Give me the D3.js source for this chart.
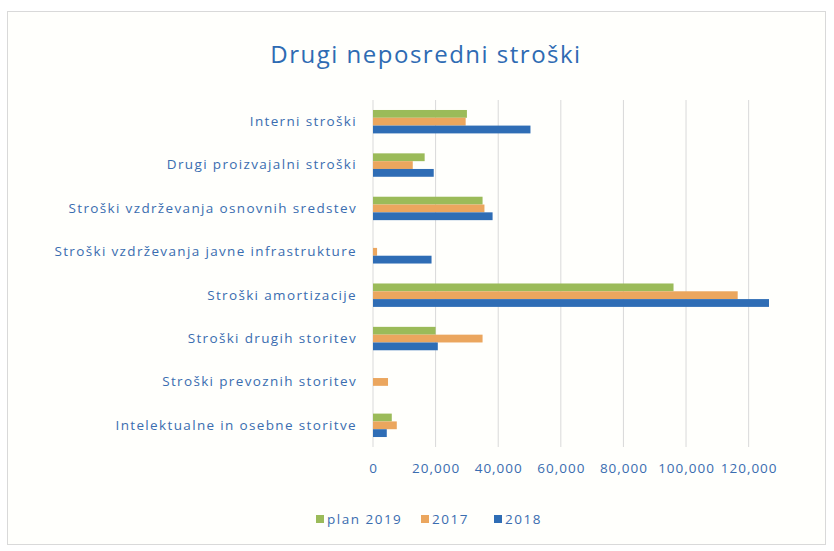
<!DOCTYPE html>
<html>
<head>
<meta charset="utf-8">
<script src="https://cdn.jsdelivr.net/npm/d3@7"></script>
<style>
  body { margin: 0; background: #fff; }
  text { font-family: "Open Sans", sans-serif; }
</style>
</head>
<body>
<svg id="drawing_region"></svg>
<script>
const categories = [
    "Interni stroški",
    "Drugi proizvajalni stroški",
    "Stroški vzdrževanja osnovnih sredstev",
    "Stroški vzdrževanja javne infrastrukture",
    "Stroški amortizacije",
    "Stroški drugih storitev",
    "Stroški prevoznih storitev",
    "Intelektualne in osebne storitve"
];
const seriesNames = ["plan 2019", "2017", "2018"];
const plan2019 = [30000, 16500, 35000, 0, 96000, 20000, 0, 6000];
const y2017 = [29600, 12700, 35600, 1300, 116500, 35000, 4800, 7600];
const y2018 = [50300, 19400, 38200, 18700, 126500, 20700, 0, 4400];
const xTicks = [0, 20000, 40000, 60000, 80000, 100000, 120000];
const colors = ["#9bbb59", "#eba65e", "#2f6db5"];

const config = {
    width: 834,
    height: 551,
    margin: {top: 100, right: 65, bottom: 104, left: 373}
};

const svg = d3.select('#drawing_region')
    .attr('width', config.width)
    .attr('height', config.height);

// chart frame
svg.append('rect')
    .attr('x', 7.5).attr('y', 11.5)
    .attr('width', 818).attr('height', 533)
    .attr('fill', '#fffffc')
    .attr('stroke', '#d9d9d9');

svg.append('text')
    .attr('x', 426).attr('y', 63)
    .attr('text-anchor', 'middle')
    .attr('font-size', 24)
    .attr('letter-spacing', 1.5)
    .attr('fill', '#2e6bb3')
    .text('Drugi neposredni stroški');

const chart = svg.append('g')
    .attr('transform', `translate(${config.margin.left}, ${config.margin.top})`);

const inner_width = config.width - config.margin.left - config.margin.right;
const inner_height = config.height - config.margin.top - config.margin.bottom;

const xscale = d3.scaleLinear()
    .domain([0, 126500])
    .range([0, inner_width]);

const yscale = d3.scaleBand()
    .domain(categories)
    .range([0, inner_height])
    .paddingInner(0.46)
    .paddingOuter(0.23);

const inner = d3.scaleBand()
    .domain(seriesNames)
    .range([0, yscale.bandwidth()]);

// gridlines
chart.append('g')
    .selectAll('line')
    .data(xTicks)
    .join('line')
    .attr('x1', d => xscale(d)).attr('x2', d => xscale(d))
    .attr('y1', 0).attr('y2', inner_height)
    .attr('stroke', '#d9d9d9');

const table = categories.map((c, i) => ({
    cat: c,
    values: [plan2019[i], y2017[i], y2018[i]]
}));

const groups = chart.selectAll('.grp')
    .data(table)
    .join('g')
    .attr('class', 'grp')
    .attr('transform', d => `translate(0, ${yscale(d.cat)})`);

groups.selectAll('rect')
    .data(d => d.values.map((v, j) => ({name: seriesNames[j], v: v, j: j})))
    .join('rect')
    .attr('x', 0)
    .attr('y', d => inner(d.name))
    .attr('width', d => xscale(d.v))
    .attr('height', inner.bandwidth())
    .attr('fill', d => colors[d.j]);

// category axis
const yaxis = d3.axisLeft(yscale).tickSize(0).tickPadding(16);
chart.append('g')
    .call(yaxis)
    .call(g => g.select('.domain').remove())
    .selectAll('text')
    .attr('font-family', '"Open Sans", sans-serif')
    .attr('font-size', 13.5)
    .attr('letter-spacing', 1.35)
    .attr('fill', '#3a6db0');

// value axis
const xaxis = d3.axisBottom(xscale)
    .tickValues(xTicks)
    .tickSize(0)
    .tickPadding(16)
    .tickFormat(d3.format(','));
chart.append('g')
    .attr('transform', `translate(0, ${inner_height})`)
    .call(xaxis)
    .call(g => g.select('.domain').remove())
    .selectAll('text')
    .attr('font-family', '"Open Sans", sans-serif')
    .attr('font-size', 13.5)
    .attr('letter-spacing', 1)
    .attr('fill', '#3a6db0');

// legend
const legendX = [316, 421, 494];
const legend = svg.append('g')
    .selectAll('g')
    .data(seriesNames)
    .join('g')
    .attr('transform', (d, i) => `translate(${legendX[i]}, 519)`);

legend.append('rect')
    .attr('x', 0).attr('y', -4)
    .attr('width', 8).attr('height', 8)
    .attr('fill', (d, i) => colors[i]);

legend.append('text')
    .attr('x', 11).attr('y', 5)
    .attr('font-size', 13.5)
    .attr('letter-spacing', 1.5)
    .attr('fill', '#3a6db0')
    .text(d => d);
</script>
</body>
</html>
